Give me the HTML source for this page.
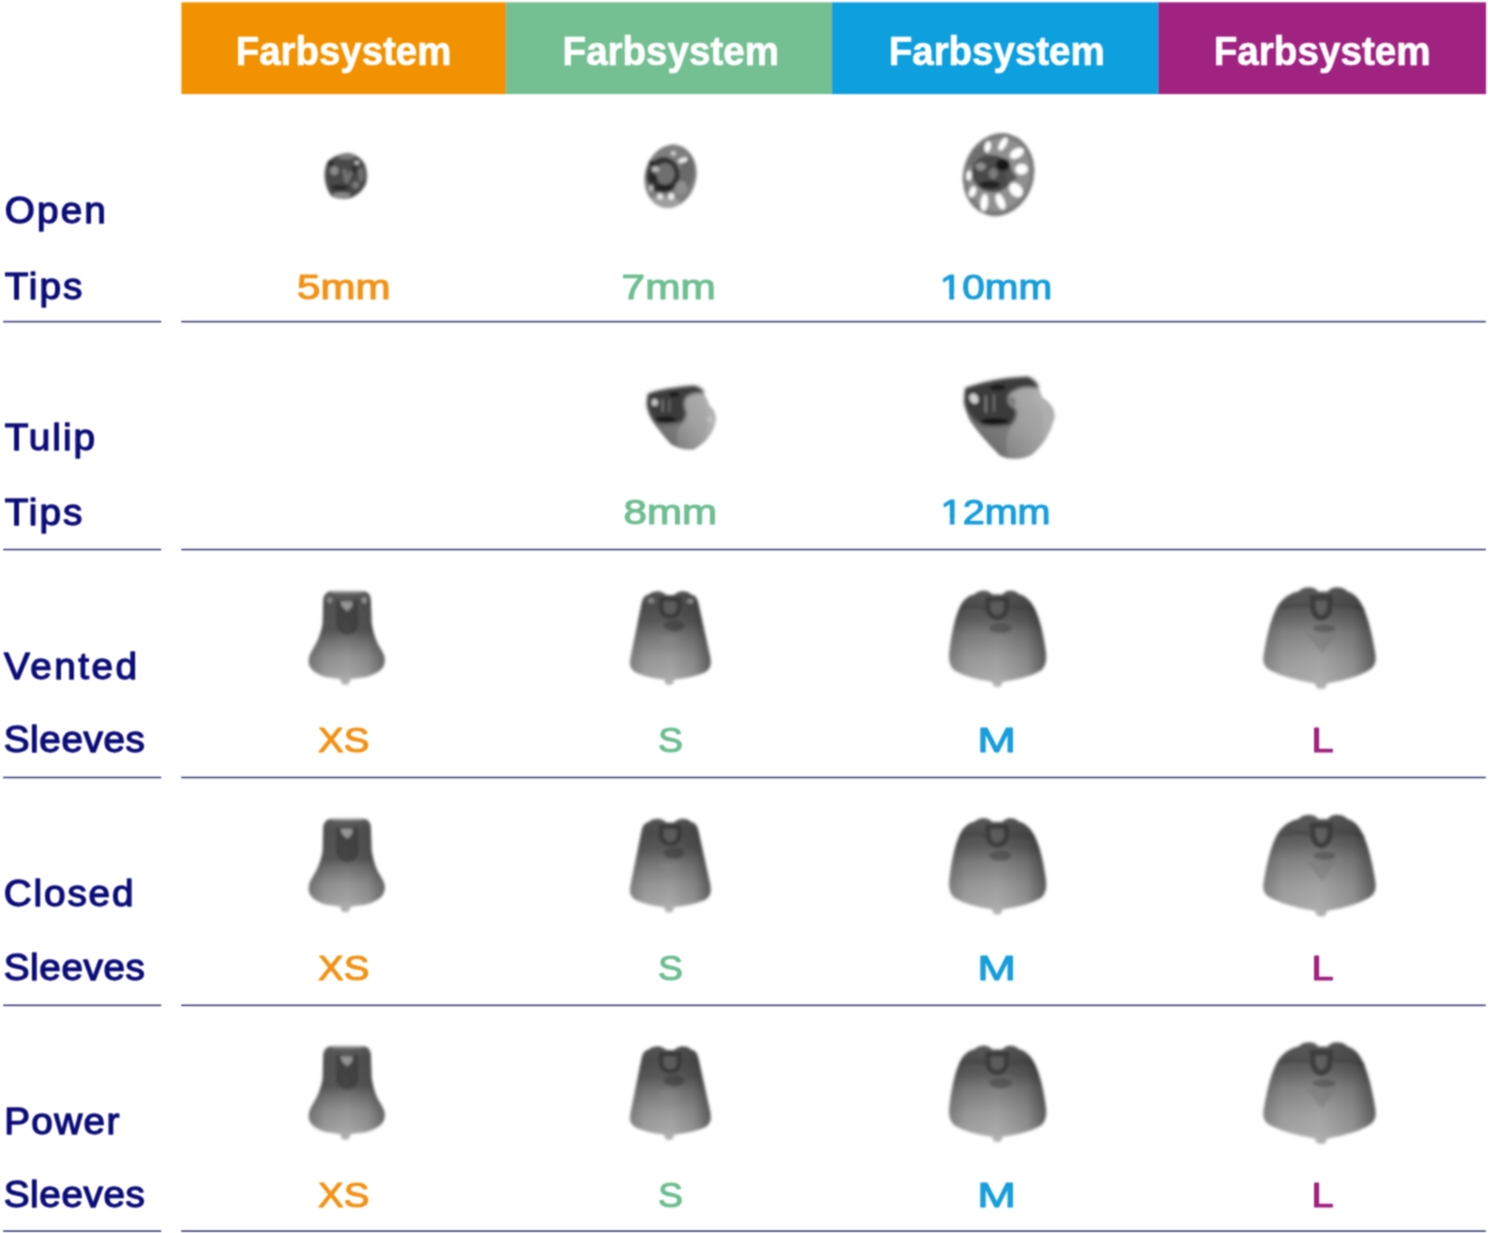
<!DOCTYPE html>
<html lang="de">
<head>
<meta charset="utf-8">
<title>Farbsystem</title>
<style>
html,body{margin:0;padding:0;background:#fff;}
body{width:1488px;height:1233px;overflow:hidden;position:relative;}
svg{display:block;position:absolute;left:0;top:0;}
text{font-family:"Liberation Sans",sans-serif;font-weight:400;stroke-linejoin:round;}
.h{font-size:40.3px;fill:#fff;font-weight:700;stroke:#fff;stroke-width:0.7px;}
.l{font-size:36.2px;fill:#0A0A7A;stroke:#0A0A7A;stroke-width:1.25px;}
.v{font-size:35.2px;stroke-width:1.15px;}
</style>
</head>
<body>
<svg width="1488" height="1233" viewBox="0 0 1488 1233" role="img" aria-label="Farbsystem">

<defs>
<filter id="tsoft" filterUnits="userSpaceOnUse" x="0" y="0" width="1488" height="1240"><feConvolveMatrix order="3" kernelMatrix="0.0625 0.125 0.0625 0.125 0.25 0.125 0.0625 0.125 0.0625" edgeMode="none" preserveAlpha="false"/></filter>
<filter id="lsoft" filterUnits="userSpaceOnUse" x="0" y="0" width="1488" height="1240"><feConvolveMatrix order="3" kernelMatrix="0.04 0.12 0.04 0.12 0.36 0.12 0.04 0.12 0.04" edgeMode="none" preserveAlpha="false"/></filter>
<linearGradient id="gvx" x1="0" y1="0" x2="0" y2="1"><stop offset="0" stop-color="#606060"/><stop offset="0.12" stop-color="#545454"/><stop offset="0.42" stop-color="#585858"/><stop offset="0.52" stop-color="#747474"/><stop offset="0.7" stop-color="#969696"/><stop offset="0.86" stop-color="#a2a2a2"/><stop offset="1" stop-color="#b4b4b4"/></linearGradient>
<linearGradient id="gvs" x1="0" y1="0" x2="0" y2="1"><stop offset="0" stop-color="#565656"/><stop offset="0.15" stop-color="#4e4e4e"/><stop offset="0.32" stop-color="#5a5a5a"/><stop offset="0.48" stop-color="#7a7a7a"/><stop offset="0.7" stop-color="#9a9a9a"/><stop offset="0.9" stop-color="#a8a8a8"/><stop offset="1" stop-color="#b4b4b4"/></linearGradient>
<linearGradient id="gvm" x1="0" y1="0" x2="0" y2="1"><stop offset="0" stop-color="#5a5a5a"/><stop offset="0.15" stop-color="#505050"/><stop offset="0.3" stop-color="#606060"/><stop offset="0.45" stop-color="#808080"/><stop offset="0.7" stop-color="#9e9e9e"/><stop offset="0.9" stop-color="#aaaaaa"/><stop offset="1" stop-color="#b4b4b4"/></linearGradient>
<linearGradient id="gvl" x1="0" y1="0" x2="0" y2="1"><stop offset="0" stop-color="#5a5a5a"/><stop offset="0.15" stop-color="#545454"/><stop offset="0.3" stop-color="#6a6a6a"/><stop offset="0.45" stop-color="#888888"/><stop offset="0.7" stop-color="#a2a2a2"/><stop offset="0.9" stop-color="#acacac"/><stop offset="1" stop-color="#b4b4b4"/></linearGradient>
<linearGradient id="ghx" x1="0" y1="0" x2="1" y2="0"><stop offset="0" stop-color="#000" stop-opacity="0.26"/><stop offset="0.22" stop-color="#000" stop-opacity="0.06"/><stop offset="0.5" stop-color="#000" stop-opacity="0"/><stop offset="0.78" stop-color="#000" stop-opacity="0.1"/><stop offset="1" stop-color="#000" stop-opacity="0.36"/></linearGradient>
<linearGradient id="ghs" x1="0" y1="0" x2="1" y2="0"><stop offset="0" stop-color="#000" stop-opacity="0.22"/><stop offset="0.18" stop-color="#000" stop-opacity="0.05"/><stop offset="0.5" stop-color="#000" stop-opacity="0"/><stop offset="0.8" stop-color="#000" stop-opacity="0.14"/><stop offset="1" stop-color="#000" stop-opacity="0.45"/></linearGradient>
<linearGradient id="gtul" x1="0" y1="1" x2="1" y2="0.2"><stop offset="0" stop-color="#4a4a4a"/><stop offset="0.35" stop-color="#888"/><stop offset="0.6" stop-color="#a0a0a0"/><stop offset="1" stop-color="#b0b0b0"/></linearGradient>
<filter id="fin" x="-20%" y="-20%" width="140%" height="140%"><feGaussianBlur stdDeviation="16"/></filter>
<filter id="fsxs" x="-30%" y="-30%" width="160%" height="160%"><feGaussianBlur stdDeviation="16.1"/></filter>
<path id="osxs" d="M385 122 L735 122 Q800 125 812 200 L822 470 Q850 640 925 750 Q990 850 945 930 Q900 1000 760 1040 L596 1062 L580 1110 Q540 1135 500 1110 L484 1062 L330 1040 Q200 1000 160 930 Q120 850 190 740 Q270 620 296 470 L302 200 Q320 125 385 122Z"/>
<filter id="fss" x="-30%" y="-30%" width="160%" height="160%"><feGaussianBlur stdDeviation="16.1"/></filter>
<path id="oss" d="M330 155 Q370 118 450 122 Q500 135 520 160 L600 160 Q620 135 670 122 Q750 118 780 155 Q845 165 860 240 L990 830 Q1012 950 930 990 Q800 1045 600 1068 L588 1112 Q548 1138 508 1112 L496 1068 Q300 1045 190 990 Q108 950 135 830 L255 240 Q270 165 330 155Z"/>
<filter id="fsm" x="-30%" y="-30%" width="160%" height="160%"><feGaussianBlur stdDeviation="14.7"/></filter>
<path id="osm" d="M340 188 Q370 150 440 152 Q490 160 510 190 L610 190 Q630 160 680 152 Q740 150 770 188 Q850 205 910 300 Q990 440 1030 720 Q1058 880 985 935 Q860 1010 610 1045 L598 1085 Q560 1110 522 1085 L510 1045 Q270 1010 145 935 Q70 880 95 720 Q130 440 200 300 Q250 205 340 188Z"/>
<filter id="fsl" x="-30%" y="-30%" width="160%" height="160%"><feGaussianBlur stdDeviation="13.0"/></filter>
<path id="osl" d="M380 168 Q410 130 480 132 Q530 140 550 170 L630 170 Q650 140 700 132 Q770 130 800 168 Q880 190 930 290 Q1000 430 1045 720 Q1060 810 995 850 Q880 925 625 968 L612 1005 Q572 1030 535 1005 L520 968 Q260 925 125 850 Q55 810 75 720 Q120 430 200 290 Q270 190 380 168Z"/>
<filter id="ft5" x="-30%" y="-30%" width="160%" height="160%"><feGaussianBlur stdDeviation="27.9"/></filter>
<filter id="ft7" x="-30%" y="-30%" width="160%" height="160%"><feGaussianBlur stdDeviation="22.1"/></filter>
<clipPath id="ct7"><ellipse cx="590" cy="600" rx="335" ry="418" transform="rotate(14 590 600)"/></clipPath>
<filter id="ft10" x="-30%" y="-30%" width="160%" height="160%"><feGaussianBlur stdDeviation="19.1"/></filter>
<clipPath id="ct10"><ellipse cx="600" cy="612" rx="398" ry="472" transform="rotate(16 600 612)"/></clipPath>
<filter id="ft8" x="-30%" y="-30%" width="160%" height="160%"><feGaussianBlur stdDeviation="20.0"/></filter>
<filter id="ft12" x="-30%" y="-30%" width="160%" height="160%"><feGaussianBlur stdDeviation="16.8"/></filter>
</defs>

<g filter="url(#tsoft)">
<rect x="181.4" y="2.3" width="325.0" height="91.8" fill="#F39200"/>
<rect x="505.8" y="2.3" width="326.8" height="91.8" fill="#74C093"/>
<rect x="832.0" y="2.3" width="327.0" height="91.8" fill="#0C9FDE"/>
<rect x="1158.4" y="2.3" width="327.6" height="91.8" fill="#A02281"/>
</g>
<g filter="url(#lsoft)">
<rect x="3.2" y="320.84" width="158" height="1.6" fill="#42427A"/>
<rect x="181.2" y="320.84" width="1304.6" height="1.6" fill="#42427A"/>
<rect x="3.2" y="548.76" width="158" height="1.6" fill="#42427A"/>
<rect x="181.2" y="548.76" width="1304.6" height="1.6" fill="#42427A"/>
<rect x="3.2" y="776.69" width="158" height="1.6" fill="#42427A"/>
<rect x="181.2" y="776.69" width="1304.6" height="1.6" fill="#42427A"/>
<rect x="3.2" y="1004.54" width="158" height="1.6" fill="#42427A"/>
<rect x="181.2" y="1004.54" width="1304.6" height="1.6" fill="#42427A"/>
<rect x="3.2" y="1230.30" width="158" height="1.6" fill="#42427A"/>
<rect x="181.2" y="1230.30" width="1304.6" height="1.6" fill="#42427A"/>
</g>
<g filter="url(#tsoft)">
<text class="h" x="235.71" y="64.6" textLength="215.66" lengthAdjust="spacingAndGlyphs">Farbsystem</text>
<text class="h" x="562.60" y="64.6" textLength="216.32" lengthAdjust="spacingAndGlyphs">Farbsystem</text>
<text class="h" x="888.74" y="64.6" textLength="215.97" lengthAdjust="spacingAndGlyphs">Farbsystem</text>
<text class="h" x="1213.67" y="64.6" textLength="216.99" lengthAdjust="spacingAndGlyphs">Farbsystem</text>
<text class="l" transform="translate(4.84 222.5) scale(1.07 1)" textLength="94.40" lengthAdjust="spacing">Open</text>
<text class="l" transform="translate(4.63 299.1) scale(1.07 1)" textLength="72.70" lengthAdjust="spacing">Tips</text>
<text class="v" fill="#F39314" stroke="#F39314" x="297.02" y="298.7" textLength="93.38" lengthAdjust="spacingAndGlyphs">5mm</text>
<text class="v" fill="#6FBF93" stroke="#6FBF93" x="621.56" y="298.7" textLength="94.26" lengthAdjust="spacingAndGlyphs">7mm</text>
<text class="v" fill="#1A9EDC" stroke="#1A9EDC" x="939.89" y="298.7" textLength="112.24" lengthAdjust="spacingAndGlyphs">10mm</text>
<text class="l" transform="translate(4.63 450.1) scale(1.07 1)" textLength="84.51" lengthAdjust="spacing">Tulip</text>
<text class="l" transform="translate(4.63 524.8) scale(1.07 1)" textLength="72.70" lengthAdjust="spacing">Tips</text>
<text class="v" fill="#6FBF93" stroke="#6FBF93" x="623.53" y="524.4" textLength="93.55" lengthAdjust="spacingAndGlyphs">8mm</text>
<text class="v" fill="#1A9EDC" stroke="#1A9EDC" x="940.63" y="524.4" textLength="109.97" lengthAdjust="spacingAndGlyphs">12mm</text>
<text class="l" transform="translate(4.12 678.5) scale(1.07 1)" textLength="124.21" lengthAdjust="spacing">Vented</text>
<text class="l" transform="translate(3.74 752.1) scale(1.07 1)" textLength="131.90" lengthAdjust="spacing">Sleeves</text>
<text class="v" fill="#F39314" stroke="#F39314" x="318.05" y="751.7" textLength="51.21" lengthAdjust="spacingAndGlyphs">XS</text>
<text class="v" fill="#6FBF93" stroke="#6FBF93" x="658.12" y="751.7" textLength="24.92" lengthAdjust="spacingAndGlyphs">S</text>
<text class="v" fill="#1A9EDC" stroke="#1A9EDC" x="977.15" y="751.7" textLength="38.76" lengthAdjust="spacingAndGlyphs">M</text>
<text class="v" fill="#A0217F" stroke="#A0217F" x="1311.50" y="751.7" textLength="22.07" lengthAdjust="spacingAndGlyphs">L</text>
<text class="l" transform="translate(3.80 906.2) scale(1.07 1)" textLength="121.24" lengthAdjust="spacing">Closed</text>
<text class="l" transform="translate(3.74 980.2) scale(1.07 1)" textLength="131.90" lengthAdjust="spacing">Sleeves</text>
<text class="v" fill="#F39314" stroke="#F39314" x="318.05" y="979.8" textLength="51.21" lengthAdjust="spacingAndGlyphs">XS</text>
<text class="v" fill="#6FBF93" stroke="#6FBF93" x="658.12" y="979.8" textLength="24.92" lengthAdjust="spacingAndGlyphs">S</text>
<text class="v" fill="#1A9EDC" stroke="#1A9EDC" x="977.15" y="979.8" textLength="38.76" lengthAdjust="spacingAndGlyphs">M</text>
<text class="v" fill="#A0217F" stroke="#A0217F" x="1311.50" y="979.8" textLength="22.07" lengthAdjust="spacingAndGlyphs">L</text>
<text class="l" transform="translate(4.13 1133.8) scale(1.07 1)" textLength="107.75" lengthAdjust="spacing">Power</text>
<text class="l" transform="translate(3.74 1207.4) scale(1.07 1)" textLength="131.90" lengthAdjust="spacing">Sleeves</text>
<text class="v" fill="#F39314" stroke="#F39314" x="318.05" y="1207.0" textLength="51.21" lengthAdjust="spacingAndGlyphs">XS</text>
<text class="v" fill="#6FBF93" stroke="#6FBF93" x="658.12" y="1207.0" textLength="24.92" lengthAdjust="spacingAndGlyphs">S</text>
<text class="v" fill="#1A9EDC" stroke="#1A9EDC" x="977.15" y="1207.0" textLength="38.76" lengthAdjust="spacingAndGlyphs">M</text>
<text class="v" fill="#A0217F" stroke="#A0217F" x="1311.50" y="1207.0" textLength="22.07" lengthAdjust="spacingAndGlyphs">L</text>
<rect x="940.00" y="294.40" width="8.93" height="7.10" fill="#fff"/>
<rect x="954.35" y="294.40" width="8.65" height="7.10" fill="#fff"/>
<rect x="941.00" y="519.40" width="8.58" height="7.10" fill="#fff"/>
<rect x="954.86" y="519.40" width="8.14" height="7.10" fill="#fff"/>
</g>
<g id="sxs" transform="translate(295 580) scale(0.09328)" filter="url(#fsxs)"><use href="#osxs" fill="url(#gvx)"/><path d="M445 215 L675 215 L680 480 Q670 575 560 588 Q450 575 440 480Z" fill="#3c3c3c" opacity="0.7"/><path d="M400 128 L720 128" stroke="#9a9a9a" stroke-width="22"/><path d="M485 230 L620 230 L610 285 L560 335 L505 285Z" fill="#969696"/><ellipse cx="372" cy="215" rx="28" ry="32" fill="#909090"/><ellipse cx="742" cy="215" rx="26" ry="34" fill="#a0a0a0"/><use href="#osxs" fill="url(#ghx)"/></g>
<g id="ss" transform="translate(618 580) scale(0.09328)" filter="url(#fss)"><use href="#oss" fill="url(#gvs)"/><path d="M465 205 L655 205 L655 300 Q650 385 560 392 Q470 385 465 300Z" fill="#5c5c5c" stroke="#3a3a3a" stroke-width="46"/><ellipse cx="600" cy="490" rx="110" ry="60" fill="#3a3a3a" opacity="0.6"/><path d="M430 600 L690 600 L560 790Z" fill="#8a8a8a" opacity="0.45"/><ellipse cx="355" cy="222" rx="34" ry="26" fill="#8e8e8e"/><ellipse cx="775" cy="228" rx="34" ry="26" fill="#9a9a9a"/><use href="#oss" fill="url(#ghs)"/></g>
<g id="sm" transform="translate(940 575) scale(0.10222)" filter="url(#fsm)"><use href="#osm" fill="url(#gvm)"/><path d="M470 235 L650 235 L650 330 Q640 410 560 418 Q480 410 470 330Z" fill="#5c5c5c" stroke="#3c3c3c" stroke-width="48"/><ellipse cx="590" cy="520" rx="110" ry="50" fill="#3e3e3e" opacity="0.5"/><path d="M200 330 Q330 290 440 330" stroke="#444" stroke-width="30" fill="none" opacity="0.5"/><path d="M690 330 Q800 290 930 350" stroke="#444" stroke-width="30" fill="none" opacity="0.5"/><use href="#osm" fill="url(#ghs)"/></g>
<g id="sl" transform="translate(1255 572) scale(0.11514)" filter="url(#fsl)"><use href="#osl" fill="url(#gvl)"/><path d="M500 222 L650 222 L650 300 Q640 390 575 402 Q510 390 500 300Z" fill="#606060" stroke="#3e3e3e" stroke-width="50"/><ellipse cx="600" cy="490" rx="100" ry="35" fill="#444" opacity="0.5"/><path d="M440 530 L710 530 L580 710Z" fill="#7a7a7a" opacity="0.5"/><path d="M230 310 Q360 270 470 300" stroke="#444" stroke-width="30" fill="none" opacity="0.5"/><path d="M690 300 Q810 270 950 330" stroke="#444" stroke-width="30" fill="none" opacity="0.5"/><use href="#osl" fill="url(#ghs)"/></g>
<g id="t5" transform="translate(310 140) scale(0.06083)" filter="url(#ft5)"><path d="M300 340 Q450 230 620 215 Q800 230 900 400 Q960 560 920 720 Q850 880 680 950 Q500 990 360 930 Q260 820 240 600 Q240 430 300 340Z" fill="#4a4a4a"/><ellipse cx="600" cy="270" rx="150" ry="50" fill="#7a7a7a"/><ellipse cx="340" cy="385" rx="45" ry="40" fill="#222"/><ellipse cx="400" cy="505" rx="70" ry="75" fill="#8a8a8a"/><path d="M560 480 L600 680 L680 520" stroke="#767676" stroke-width="60" fill="none" stroke-linejoin="round"/><ellipse cx="770" cy="375" rx="40" ry="35" fill="#c0c0c0"/><ellipse cx="730" cy="480" rx="40" ry="90" fill="#2e2e2e"/><ellipse cx="840" cy="570" rx="50" ry="120" fill="#707070"/><ellipse cx="750" cy="740" rx="55" ry="60" fill="#7a7a7a"/><ellipse cx="490" cy="780" rx="150" ry="50" fill="#2c2c2c"/><ellipse cx="520" cy="905" rx="150" ry="42" fill="#8c8c8c"/></g>
<g id="t7" transform="translate(625 130) scale(0.07704)" filter="url(#ft7)"><g clip-path="url(#ct7)"><ellipse cx="590" cy="600" rx="335" ry="418" transform="rotate(14 590 600)" fill="#7e7e7e"/><ellipse cx="520" cy="930" rx="200" ry="70" transform="rotate(5 520 930)" fill="#9e9e9e"/><ellipse cx="800" cy="560" rx="90" ry="220" transform="rotate(8 800 560)" fill="#6a6a6a"/><ellipse cx="495" cy="585" rx="215" ry="235" transform="rotate(10 495 585)" fill="#333"/><ellipse cx="520" cy="570" rx="125" ry="140" fill="#6e6e6e"/><ellipse cx="395" cy="510" rx="50" ry="38" fill="#b8b8b8"/><ellipse cx="345" cy="425" rx="35" ry="28" fill="#1c1c1c"/><ellipse cx="370" cy="620" rx="50" ry="40" fill="#262626"/><ellipse cx="520" cy="745" rx="110" ry="30" fill="#1e1e1e"/><ellipse cx="750" cy="392" rx="62" ry="30" transform="rotate(-18 750 392)" fill="#f0f0f0"/><ellipse cx="628" cy="302" rx="34" ry="30" fill="#cfcfcf"/><ellipse cx="455" cy="862" rx="36" ry="42" fill="#e8e8e8"/><ellipse cx="600" cy="862" rx="40" ry="45" fill="#f0f0f0"/><ellipse cx="340" cy="752" rx="24" ry="42" fill="#c8c8c8"/><ellipse cx="730" cy="750" rx="80" ry="90" fill="#8e8e8e"/></g></g>
<g id="t10" transform="translate(945 120) scale(0.08921)" filter="url(#ft10)"><g clip-path="url(#ct10)"><ellipse cx="600" cy="612" rx="398" ry="472" transform="rotate(16 600 612)" fill="#7c7c7c"/><ellipse cx="605" cy="612" rx="340" ry="415" transform="rotate(16 605 612)" fill="#909090"/><path d="M545 605 L250 500 L330 330 L430 260Z" fill="#6e6e6e"/><ellipse cx="478" cy="300" rx="34" ry="64" transform="rotate(12 478 300)" fill="#ffffff"/><ellipse cx="650" cy="268" rx="36" ry="82" transform="rotate(30 650 268)" fill="#ffffff"/><ellipse cx="805" cy="372" rx="52" ry="86" transform="rotate(58 805 372)" fill="#ffffff"/><ellipse cx="858" cy="552" rx="60" ry="70" transform="rotate(85 858 552)" fill="#ffffff"/><ellipse cx="795" cy="785" rx="66" ry="88" transform="rotate(-42 795 785)" fill="#ffffff"/><ellipse cx="622" cy="915" rx="46" ry="94" transform="rotate(-22 622 915)" fill="#ffffff"/><ellipse cx="440" cy="925" rx="42" ry="98" transform="rotate(6 440 925)" fill="#ffffff"/><ellipse cx="308" cy="805" rx="36" ry="64" transform="rotate(22 308 805)" fill="#ffffff"/><ellipse cx="268" cy="622" rx="28" ry="56" transform="rotate(5 268 622)" fill="#ffffff"/><ellipse cx="525" cy="600" rx="228" ry="208" transform="rotate(15 525 600)" fill="#484848"/><path d="M690 510 L810 650 L670 730Z" fill="#555"/><ellipse cx="650" cy="500" rx="78" ry="66" fill="#181818"/><ellipse cx="500" cy="725" rx="118" ry="44" fill="#242424"/><ellipse cx="400" cy="520" rx="58" ry="46" fill="#909090"/><ellipse cx="540" cy="600" rx="50" ry="60" fill="#7c7c7c"/></g></g>
<g id="t8" transform="translate(630 365) scale(0.08516)" filter="url(#ft8)"><path d="M210 340 Q400 270 760 240 Q880 300 930 470 Q1030 560 1000 680 Q950 880 750 990 Q600 1010 480 930 Q330 760 240 620 Q180 480 210 340Z" fill="url(#gtul)"/><path d="M480 930 Q330 760 240 620 L330 690 Q480 720 620 680 Q520 760 560 960Z" fill="#6a6a6a" opacity="0.6"/><path d="M830 300 Q900 380 930 470 Q1030 560 1000 680 Q970 820 860 920 Q940 700 900 520 Q880 400 830 300Z" fill="#b4b4b4" opacity="0.7"/><path d="M210 340 Q400 270 760 245 Q850 270 880 330 Q700 300 640 400 Q620 480 660 560 Q650 640 600 680 Q450 705 330 690 Q240 620 200 480Z" fill="#3a3a3a" filter="url(#fin)"/><ellipse cx="290" cy="440" rx="38" ry="42" fill="#c4c4c4"/><rect x="370" y="400" width="24" height="150" fill="#7a7a7a"/><rect x="450" y="400" width="22" height="150" fill="#6c6c6c"/><ellipse cx="420" cy="640" rx="130" ry="32" fill="#161616"/><ellipse cx="520" cy="345" rx="60" ry="30" fill="#1a1a1a"/><ellipse cx="940" cy="640" rx="40" ry="30" fill="#c0c0c0"/></g>
<g id="t12" transform="translate(945 355) scale(0.10138)" filter="url(#ft12)"><path d="M200 330 Q450 230 820 210 Q920 280 960 420 Q1090 500 1080 620 Q1020 850 850 990 Q680 1060 540 990 Q350 800 240 640 Q170 480 200 330Z" fill="url(#gtul)"/><path d="M540 990 Q350 800 240 640 L380 700 Q540 720 700 640 Q560 780 620 1020Z" fill="#6a6a6a" opacity="0.6"/><path d="M880 260 Q930 330 960 420 Q1090 500 1080 620 Q1040 780 950 900 Q1000 700 940 520 Q830 420 880 260Z" fill="#b0b0b0" opacity="0.7"/><path d="M200 330 Q450 230 820 215 Q900 240 930 330 Q720 280 620 400 Q600 470 700 540 Q720 620 640 690 Q500 710 380 700 Q240 640 190 480Z" fill="#3a3a3a" filter="url(#fin)"/><ellipse cx="285" cy="430" rx="42" ry="55" transform="rotate(-30 285 430)" fill="#d0d0d0"/><rect x="390" y="400" width="26" height="170" fill="#7a7a7a"/><rect x="470" y="390" width="24" height="170" fill="#6c6c6c"/><ellipse cx="490" cy="655" rx="140" ry="32" fill="#141414"/><ellipse cx="520" cy="320" rx="80" ry="30" fill="#1c1c1c"/><ellipse cx="660" cy="460" rx="40" ry="50" fill="#808080"/></g>

<g transform="translate(0 227.5)"><g id="cxsc" transform="translate(295 580) scale(0.09328)" filter="url(#fsxs)"><use href="#osxs" fill="url(#gvx)"/><path d="M445 215 L675 215 L680 480 Q670 575 560 588 Q450 575 440 480Z" fill="#3c3c3c" opacity="0.7"/><path d="M400 128 L720 128" stroke="#9a9a9a" stroke-width="22"/><path d="M485 230 L620 230 L610 285 L560 335 L505 285Z" fill="#969696"/><use href="#osxs" fill="url(#ghx)"/></g>
<g id="csc" transform="translate(618 580) scale(0.09328)" filter="url(#fss)"><use href="#oss" fill="url(#gvs)"/><path d="M465 205 L655 205 L655 300 Q650 385 560 392 Q470 385 465 300Z" fill="#5c5c5c" stroke="#3a3a3a" stroke-width="46"/><ellipse cx="600" cy="490" rx="110" ry="60" fill="#3a3a3a" opacity="0.6"/><path d="M430 600 L690 600 L560 790Z" fill="#8a8a8a" opacity="0.45"/><use href="#oss" fill="url(#ghs)"/></g>
<g id="cmc" transform="translate(940 575) scale(0.10222)" filter="url(#fsm)"><use href="#osm" fill="url(#gvm)"/><path d="M470 235 L650 235 L650 330 Q640 410 560 418 Q480 410 470 330Z" fill="#5c5c5c" stroke="#3c3c3c" stroke-width="48"/><ellipse cx="590" cy="520" rx="110" ry="50" fill="#3e3e3e" opacity="0.5"/><path d="M200 330 Q330 290 440 330" stroke="#444" stroke-width="30" fill="none" opacity="0.5"/><path d="M690 330 Q800 290 930 350" stroke="#444" stroke-width="30" fill="none" opacity="0.5"/><use href="#osm" fill="url(#ghs)"/></g>
<g id="clc" transform="translate(1255 572) scale(0.11514)" filter="url(#fsl)"><use href="#osl" fill="url(#gvl)"/><path d="M500 222 L650 222 L650 300 Q640 390 575 402 Q510 390 500 300Z" fill="#606060" stroke="#3e3e3e" stroke-width="50"/><ellipse cx="600" cy="490" rx="100" ry="35" fill="#444" opacity="0.5"/><path d="M440 530 L710 530 L580 710Z" fill="#7a7a7a" opacity="0.5"/><path d="M230 310 Q360 270 470 300" stroke="#444" stroke-width="30" fill="none" opacity="0.5"/><path d="M690 300 Q810 270 950 330" stroke="#444" stroke-width="30" fill="none" opacity="0.5"/><use href="#osl" fill="url(#ghs)"/></g></g>
<g transform="translate(0 455)"><use href="#cxsc"/><use href="#csc"/><use href="#cmc"/><use href="#clc"/></g>
</svg>
</body>
</html>
